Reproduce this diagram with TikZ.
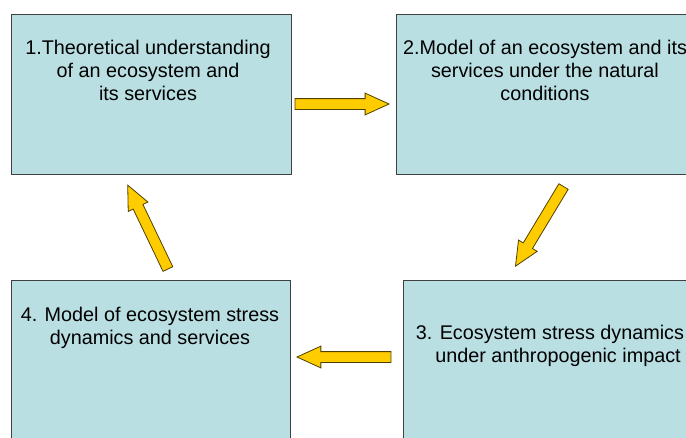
\documentclass[tikz,border=0pt]{standalone}
\usepackage{fontspec}
\setmainfont{Liberation Sans}
\usetikzlibrary{shapes.arrows}
\definecolor{boxfill}{RGB}{186,223,227}
\definecolor{boxline}{RGB}{64,64,64}
\definecolor{arrowfill}{RGB}{255,204,0}
\definecolor{arrowline}{RGB}{80,64,0}
\tikzset{
  stagebox/.style={draw=boxline, fill=boxfill, line width=1pt, anchor=north west, inner sep=0pt},
  stagetext/.style={anchor=north, inner sep=0pt, align=center, font=\fontsize{19.8}{23}\selectfont, text=black},
  flowarrow/.style={shape=single arrow, draw=arrowline, fill=arrowfill, line width=0.8pt,
    minimum height=93pt, minimum width=21pt, inner xsep=0pt, inner ysep=5pt,
    single arrow head extend=5.5pt, single arrow tip angle=49, single arrow head indent=0pt, anchor=tip}
}
\begin{document}
\begin{tikzpicture}[x=1pt,y=-1pt]
\useasboundingbox (0,0) rectangle (686,437);
\clip (0,0) rectangle (686,437);
% boxes
\node[stagebox, minimum width=280pt, minimum height=160pt] (b1) at (11,14) {};
\node[stagebox, minimum width=310pt, minimum height=160pt] (b2) at (396,14) {};
\node[stagebox, minimum width=300pt, minimum height=170pt] (b3) at (403,280) {};
\node[stagebox, minimum width=279pt, minimum height=170pt] (b4) at (11,280) {};
% texts
\node[stagetext] (t1) at (148,40) {1.Theoretical understanding\\of an ecosystem and\\its services};
\node[stagetext] (t2) at (545,40) {2.Model of an ecosystem and its\\services under the natural\\conditions};
\node[stagetext] (t3) at (550,325) {3. Ecosystem stress dynamics\\\hspace*{16pt}under anthropogenic impact};
\node[stagetext] (t4) at (150,307) {4. Model of ecosystem stress\\dynamics and services};
% arrows
\node[flowarrow, minimum height=94pt, rotate=0] (a1) at (390,104) {};
\node[flowarrow, rotate=238.9] (a2) at (515,267) {};
\node[flowarrow, minimum height=94pt, rotate=180] (a4) at (296,357) {};
\node[flowarrow, rotate=115.6] (a3) at (127.3,184.3) {};
\end{tikzpicture}
\end{document}
